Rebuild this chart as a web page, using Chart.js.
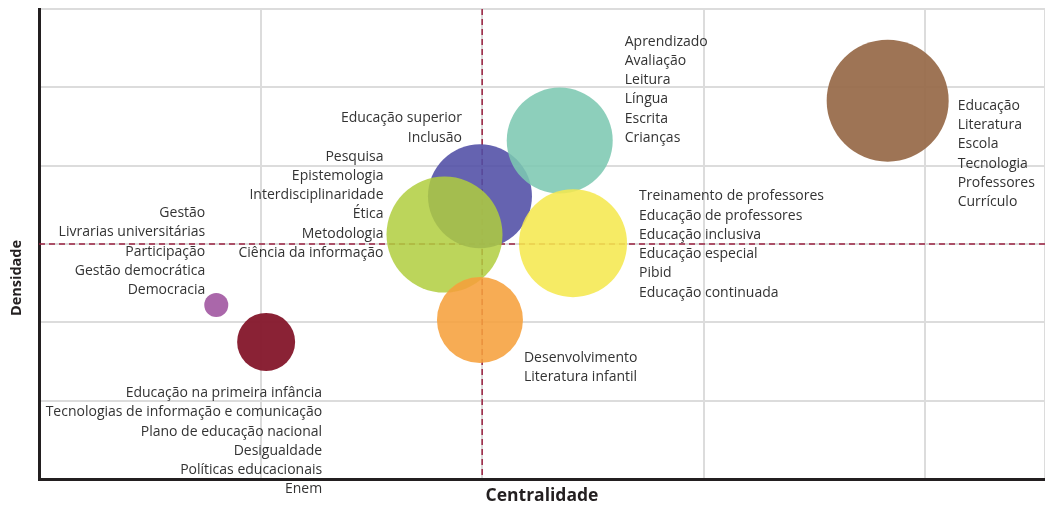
<!DOCTYPE html>
<html>
<head>
<meta charset="utf-8">
<script src="https://cdn.jsdelivr.net/npm/chart.js@4"></script>
<style>
  html, body { margin: 0; padding: 0; background: #fff; }
  #wrap { width: 1045px; height: 509px; }
</style>
</head>
<body>
<div id="wrap"><canvas id="mapa"></canvas></div>
<script>
// centralidade (x), densidade (y), tamanho da bolha (raio em px)
const centralidade = [1.99, 2.35, 2.41, 1.83, 1.99, 3.83, 0.80, 1.025];
const densidade    = [3.61, 4.32, 3.01, 3.12, 2.03, 4.83, 2.22, 1.75];
const raios        = [52, 53, 54, 58, 43, 61, 12, 29];
const cores = [
  "rgba(80,77,165,0.88)",
  "rgba(125,200,178,0.88)",
  "rgba(245,232,80,0.88)",
  "rgba(176,206,62,0.85)",
  "rgba(246,160,60,0.88)",
  "rgba(150,104,70,0.92)",
  "rgba(163,90,163,0.92)",
  "rgba(132,22,42,0.95)"
];

// palavras-chave de cada grupo
const termos = [
  ["Educação superior", "Inclusão"],
  ["Aprendizado", "Avaliação", "Leitura", "Língua", "Escrita", "Crianças"],
  ["Treinamento de professores", "Educação de professores", "Educação inclusiva", "Educação especial", "Pibid", "Educação continuada"],
  ["Pesquisa", "Epistemologia", "Interdisciplinaridade", "Ética", "Metodologia", "Ciência da informação"],
  ["Desenvolvimento", "Literatura infantil"],
  ["Educação", "Literatura", "Escola", "Tecnologia", "Professores", "Currículo"],
  ["Gestão", "Livrarias universitárias", "Participação", "Gestão democrática", "Democracia"],
  ["Educação na primeira infância", "Tecnologias de informação e comunicação", "Plano de educação nacional", "Desigualdade", "Políticas educacionais", "Enem"]
];
// posição do texto em relação à bolha
const rotulosPos = [
  { dx: -18, dy: -78, align: "right" },
  { dx: 65, dy: -99, align: "left" },
  { dx: 66, dy: -47, align: "left" },
  { dx: -61, dy: -78, align: "right" },
  { dx: 44, dy: 38, align: "left" },
  { dx: 70, dy: 5, align: "left" },
  { dx: -11, dy: -92, align: "right" },
  { dx: 56, dy: 51, align: "right" }
];

const corteX = 2;
const corteY = 3;

const pontos = centralidade.map((x, i) => ({ x: x, y: densidade[i], r: raios[i] }));

// linhas tracejadas atrás das bolhas
const tracejado = {
  id: "tracejado",
  beforeDatasetsDraw(chart) {
    const { ctx, chartArea, scales } = chart;
    const px = scales.x.getPixelForValue(corteX);
    const py = scales.y.getPixelForValue(corteY);
    ctx.save();
    ctx.strokeStyle = "#9a2140";
    ctx.lineWidth = 1.5;
    ctx.setLineDash([6, 4]);
    ctx.beginPath();
    ctx.moveTo(px, chartArea.top);
    ctx.lineTo(px, chartArea.bottom);
    ctx.moveTo(chartArea.left, py);
    ctx.lineTo(chartArea.right, py);
    ctx.stroke();
    ctx.restore();
  }
};

const rotulos = {
  id: "rotulos",
  afterDatasetsDraw(chart) {
    const { ctx } = chart;
    ctx.save();
    ctx.font = "14px 'Open Sans'";
    ctx.fillStyle = "#333";
    ctx.textBaseline = "middle";
    chart.getDatasetMeta(0).data.forEach((el, i) => {
      const p = rotulosPos[i];
      ctx.textAlign = p.align;
      termos[i].forEach((t, k) => {
        ctx.fillText(t, el.x + p.dx, el.y + p.dy + k * 19.3);
      });
    });
    ctx.restore();
  }
};

// título do eixo y, um pouco abaixo do centro
const tituloY = {
  id: "tituloY",
  afterDraw(chart) {
    const { ctx } = chart;
    ctx.save();
    ctx.translate(17, 278);
    ctx.rotate(-Math.PI / 2);
    ctx.font = "bold 14.5px 'Open Sans'";
    ctx.fillStyle = "#231f20";
    ctx.textAlign = "center";
    ctx.textBaseline = "middle";
    ctx.fillText("Densidade", 0, 0);
    ctx.restore();
  }
};

new Chart(document.getElementById("mapa"), {
  type: "bubble",
  data: {
    datasets: [{
      data: pontos,
      backgroundColor: cores,
      borderWidth: 0,
      hoverBorderWidth: 0
    }]
  },
  options: {
    responsive: true,
    maintainAspectRatio: false,
    animation: false,
    layout: { autoPadding: false, padding: { top: 9, right: 0, bottom: 0, left: 39 } },
    plugins: { legend: { display: false }, tooltip: { enabled: false } },
    scales: {
      x: {
        min: 0, max: 4.54,
        ticks: { display: false, stepSize: 1 },
        grid: { color: "#dcdcdc", lineWidth: 2, drawTicks: false },
        border: { color: "#231f20", width: 3 },
        title: {
          display: true, text: "Centralidade", color: "#231f20",
          font: { family: "'Open Sans'", size: 17.5, weight: "bold" },
          padding: { top: 7, bottom: 2 }
        }
      },
      y: {
        min: 0, max: 6,
        ticks: { display: false, stepSize: 1 },
        grid: { color: "#dcdcdc", lineWidth: 2, drawTicks: false },
        border: { color: "#231f20", width: 3 }
      }
    }
  },
  plugins: [tracejado, rotulos, tituloY]
});
</script>
</body>
</html>
